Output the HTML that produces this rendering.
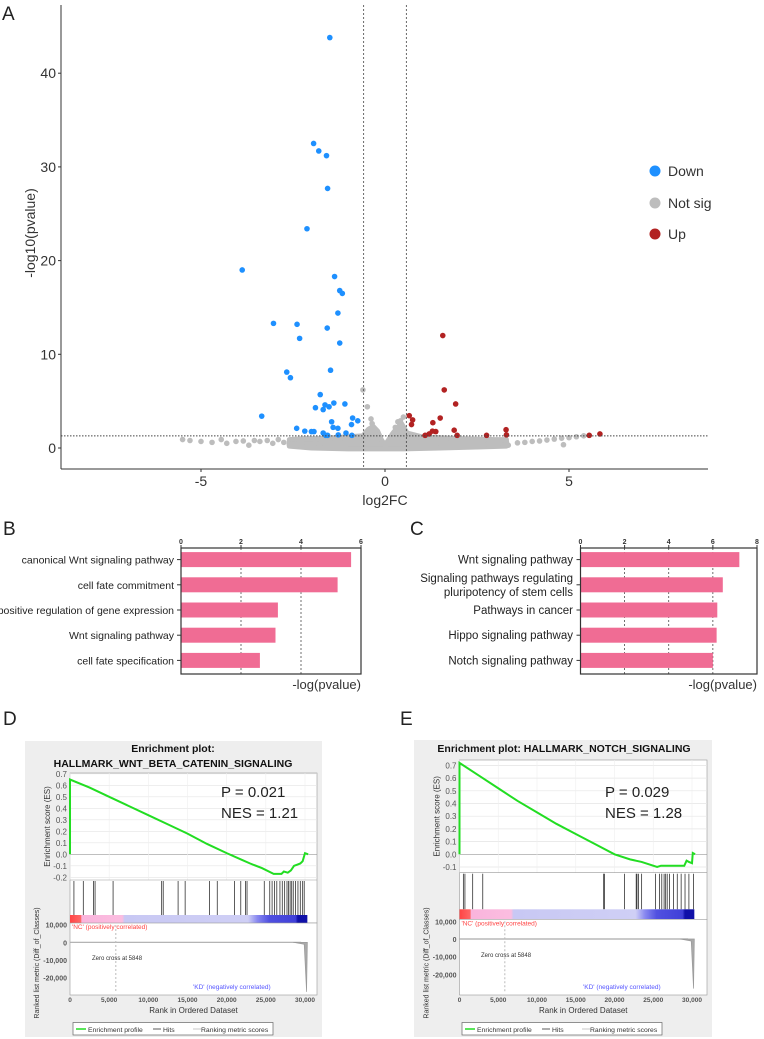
<!DOCTYPE html>
<html><head><meta charset="utf-8">
<style>
html,body{margin:0;padding:0;background:#fff;}
svg{display:block;font-family:"Liberation Sans",Arial,sans-serif;}
</style></head>
<body>
<svg id="fig" width="764" height="1039" viewBox="0 0 764 1039" xmlns="http://www.w3.org/2000/svg">
<g id="pa"></g>
<g id="pb"></g>
<g id="pc"></g>
<g id="pd"></g>
<g id="pe"></g>
</svg>
<script>
// ---------- Volcano data ----------
const downPts = [[-1.5,43.8],[-1.94,32.5],[-1.8,31.7],[-1.59,31.2],[-1.56,27.7],[-2.12,23.4],[-3.88,19.0],[-1.37,18.3],[-1.23,16.8],[-1.16,16.5],[-1.28,14.4],[-3.03,13.3],[-2.39,13.2],[-1.57,12.8],[-2.32,11.7],[-1.23,11.2],[-2.67,8.1],[-2.57,7.5],[-1.48,8.3],[-1.76,5.7],[-1.89,4.3],[-1.63,4.6],[-1.52,4.4],[-1.39,4.8],[-1.68,4.1],[-1.09,4.7],[-3.35,3.4],[-0.88,3.2],[-0.74,2.9],[-0.91,2.5],[-1.45,2.8],[-1.41,2.2],[-1.28,2.1],[-2.4,2.1],[-2.18,1.8],[-2.0,1.75],[-1.93,1.75],[-1.68,1.6],[-1.61,1.35],[-1.56,1.35],[-1.27,1.4],[-1.06,1.6],[-0.9,1.35]];
const upPts = [[1.57,12.0],[1.61,6.2],[1.92,4.7],[1.5,3.2],[0.66,3.45],[0.75,3.0],[0.72,2.5],[1.3,2.7],[1.29,1.8],[1.38,1.75],[1.88,1.9],[1.2,1.5],[1.09,1.35],[1.96,1.35],[2.76,1.35],[3.29,1.95],[3.3,1.4],[5.55,1.35],[5.84,1.5]];
const nsPts = [[-0.6,6.2],[-0.48,4.4],[-0.38,3.1],[-0.35,2.6],[0.35,2.8],[0.5,3.3],[0.28,2.2],[0.42,2.9],[-5.5,0.9],[-5.3,0.8],[-5.0,0.7],[-4.7,0.6],[-4.45,0.9],[-4.3,0.5],[-4.05,0.7],[-3.85,0.75],[-3.7,0.3],[-3.55,0.8],[-3.4,0.7],[-3.2,0.8],[-3.05,0.5],[-2.9,0.9],[-2.75,0.6],[3.35,0.3],[3.6,0.55],[3.8,0.6],[4.0,0.7],[4.2,0.75],[4.4,0.85],[4.6,0.95],[4.8,1.05],[4.85,0.35],[5.0,1.1],[5.2,1.2],[5.4,1.3],[3.3,0.6],[3.1,0.5],[2.8,0.4],[-2.6,0.4],[-2.3,0.3],[-1.9,0.5],[-1.2,0.6],[0.9,0.6],[1.8,0.5],[2.3,0.5]];
const nsBand = [[-2.6,0.9],[-2.2,1.0],[-1.8,1.0],[-1.4,1.1],[-1.0,1.2],[-0.6,1.3],[-0.45,2.0],[-0.32,2.3],[-0.2,1.8],[-0.1,0.9],[0,0.3],[0.1,0.9],[0.2,1.5],[0.3,2.0],[0.45,2.6],[0.6,1.6],[1.0,1.2],[1.5,1.1],[2.0,1.0],[2.5,0.95],[3.0,0.9],[3.3,0.9],[3.3,0.2],[2.5,0.1],[1.5,0.0],[0.5,-0.1],[0,-0.1],[-1,-0.1],[-2,0.0],[-2.6,0.2]];
const volXTicks = [-5,0,5];
const volYTicks = [0,10,20,30,40];
const fcCut = 0.58, pCut = 1.3;

// ---------- Bar data ----------
const goCats = ["canonical Wnt signaling pathway","cell fate commitment ","positive regulation of gene expression","Wnt signaling pathway ","cell fate specification "];
const goVals = [5.67,5.22,3.23,3.15,2.63];
const goTicks = [0,2,4,6];
const keggCats = [["Wnt signaling pathway"],["Signaling pathways regulating","pluripotency of stem cells"],["Pathways in cancer"],["Hippo signaling pathway"],["Notch signaling pathway"]];
const keggVals = [7.2,6.45,6.2,6.17,6.0];
const keggTicks = [0,2,4,6,8];

// ---------- GSEA data ----------
const wntRank = [0,0,2.5,5,7.5,10,12.5,15,17.5,20,22,23,24.5,26,26.5,27,27.3,27.8,28.2,28.6,29,29.4,29.7,30,30.4];
const wntES = [0,0.65,0.58,0.5,0.42,0.34,0.26,0.18,0.09,0.01,-0.05,-0.08,-0.12,-0.17,-0.17,-0.17,-0.15,-0.16,-0.14,-0.1,-0.09,-0.08,-0.06,0.01,0];
const wntHits = [0.5,1.7,3.0,3.2,5.5,11.7,11.9,13.8,14.7,17.8,18.8,21.0,21.8,22.4,22.6,24.8,25.5,25.8,26.1,26.4,26.8,27.1,27.4,27.7,27.9,28.1,28.3,28.5,28.8,29.1,29.4,29.7,29.9];
const notchRank = [0,0,2.5,5,7.5,10,12.5,15,17.5,20,22,23.5,25.5,26,27,28,29,29.3,29.6,30,30.1,30.4];
const notchES = [0,0.72,0.62,0.52,0.42,0.33,0.24,0.16,0.08,0.0,-0.04,-0.06,-0.1,-0.09,-0.09,-0.09,-0.09,-0.05,-0.06,-0.07,0.01,0];
const notchHits = [0.5,0.7,1.7,3.0,18.6,18.7,21.3,22.8,22.9,23.1,23.5,25.3,25.8,26.1,26.4,26.6,26.8,27.1,27.6,28.1,28.6,29.1,29.6,30.2];
const rankTicks = [0,5,10,15,20,25,30];
const rankTickLabels = ["0","5,000","10,000","15,000","20,000","25,000","30,000"];
const metricTicks = [10000,0,-10000,-20000];
const metricTickLabels = ["10,000","0","-10,000","-20,000"];

const NS="http://www.w3.org/2000/svg";
function mk(parent, tag, attrs, text){
  const e=document.createElementNS(NS,tag);
  for(const k in attrs) e.setAttribute(k,attrs[k]);
  if(text!==undefined) e.textContent=text;
  parent.appendChild(e); return e;
}
function named(e,n,i){ 
   return e; }

// ---------- Panel labels ----------
const fig=document.getElementById('fig');
[["A",2,20],["B",3,535],["C",410,535],["D",3,725],["E",400,725]].forEach(p=>{
  const t=mk(fig,'text',{x:p[1],y:p[2],'font-size':19,fill:'#222'},p[0]);
  
  
});

// ---------- Volcano ----------
(function(){
  const g=document.getElementById('pa');
  const L=61,R=708,T=5,B=469;
  const X=v=>385+v*36.8, Y=v=>448-v*9.37;
  // not sig band
  const bp=nsBand.map(p=>X(p[0])+','+Y(p[1])).join(' ');
  const band=mk(g,'polygon',{points:bp,fill:'#bdbdbd',stroke:'#bdbdbd','stroke-width':5,'stroke-linejoin':'round'});
  
  
  nsPts.forEach(p=>{const c=mk(g,'circle',{cx:X(p[0]),cy:Y(p[1]),r:2.8,fill:'#bdbdbd'});
    
    });
  downPts.forEach(p=>{const c=mk(g,'circle',{cx:X(p[0]),cy:Y(p[1]),r:2.8,fill:'#1e90ff'});
    
    });
  upPts.forEach(p=>{const c=mk(g,'circle',{cx:X(p[0]),cy:Y(p[1]),r:2.8,fill:'#b22222'});
    
    });
  // cutoffs
  [-fcCut,fcCut].forEach(v=>{const l=mk(g,'line',{x1:X(v),x2:X(v),y1:T,y2:B,stroke:'#444','stroke-width':0.8,'stroke-dasharray':'2,2'});
    
    });
  const hl=mk(g,'line',{x1:L,x2:R,y1:Y(pCut),y2:Y(pCut),stroke:'#444','stroke-width':1,'stroke-dasharray':'1.5,1.5'});
  
  
  named(mk(g,'line',{x1:L,x2:L,y1:T,y2:B,stroke:'#333','stroke-width':1}),'y-axis');
  named(mk(g,'line',{x1:L,x2:R,y1:B,y2:B,stroke:'#333','stroke-width':1}),'x-axis');
  volYTicks.forEach(v=>{
    mk(g,'line',{x1:L-3,x2:L,y1:Y(v),y2:Y(v),stroke:'#333'});
    const t=mk(g,'text',{x:L-5,y:Y(v)+5,'font-size':14,'text-anchor':'end',fill:'#333'},v);
    
    
  });
  volXTicks.forEach(v=>{
    mk(g,'line',{x1:X(v),x2:X(v),y1:B,y2:B+3,stroke:'#333'});
    const t=mk(g,'text',{x:X(v),y:B+17,'font-size':14,'text-anchor':'middle',fill:'#333'},v);
    
    
  });
  named(mk(g,'text',{x:385,y:505,'font-size':14,'text-anchor':'middle',fill:'#333'},'log2FC'),'x-axis-title');
  named(mk(g,'text',{x:0,y:0,'font-size':14,'text-anchor':'middle',fill:'#333',transform:'translate(35,233) rotate(-90)'},'-log10(pvalue)'),'y-axis-title');
  [["Down",'#1e90ff',171],["Not sig",'#bdbdbd',203],["Up",'#b22222',234]].forEach(d=>{
    const lg=mk(g,'g',{});
    
    
    mk(lg,'circle',{cx:655,cy:d[2],r:5.5,fill:d[1]});
    mk(lg,'text',{x:668,y:d[2]+5,'font-size':14,fill:'#333'},d[0]);
  });
})();

// ---------- Bars ----------
function barPanel(id,cats,vals,ticks,L,R,T,B,labelX,fs){
  const g=document.getElementById(id);
  const max=ticks[ticks.length-1];
  const X=v=>L+(R-L)*v/max;
  const step=(B-T)/cats.length;
  ticks.slice(1,-1).forEach(v=>{const l=mk(g,'line',{x1:X(v),x2:X(v),y1:T,y2:B,stroke:'#333','stroke-width':0.7,'stroke-dasharray':'2,2'});
    
    });
  vals.forEach((v,i)=>{
    const cy=T+step*(i+0.5)-1;
    const r=mk(g,'rect',{x:L,y:cy-7.5,width:X(v)-L,height:15,fill:'#f06c94'});
    
    
    mk(g,'line',{x1:L-4,x2:L,y1:cy,y2:cy,stroke:'#333'});
    const lines=Array.isArray(cats[i])?cats[i]:[cats[i]];
    lines.forEach((s,j)=>{
      const t=mk(g,'text',{x:labelX,y:cy+4+(j-(lines.length-1)/2)*14,'font-size':fs,'text-anchor':'end',fill:'#222'},s);
      
      
    });
  });
  named(mk(g,'rect',{x:L,y:T,width:R-L,height:B-T,fill:'none',stroke:'#333','stroke-width':1.2}),'plot-frame');
  ticks.forEach(v=>{
    mk(g,'line',{x1:X(v),x2:X(v),y1:T-3,y2:T,stroke:'#333'});
    const t=mk(g,'text',{x:X(v),y:T-4,'font-size':7,'font-weight':'bold','text-anchor':'middle',fill:'#333'},v);
    
    
  });
  named(mk(g,'text',{x:R,y:B+15,'font-size':13,'text-anchor':'end',fill:'#333'},'-log(pvalue)'),'x-axis-title');
}
barPanel('pb',goCats,goVals,goTicks,181,361,548,674,174,10.5);
barPanel('pc',keggCats,keggVals,keggTicks,580.5,757,548,674,573,11.5);

// ---------- GSEA ----------
function gsea(id,c,rank,es,hits){
  const g=document.getElementById(id);
  named(mk(g,'rect',{x:c.bx1,y:c.by1,width:c.bx2-c.bx1,height:1037-c.by1,fill:'#eeeeee'}),'panel-background');
  const X=v=>c.x0+(c.x30-c.x0)*v/30;
  const E=v=>c.e0-v*c.eu;
  const mY=v=>c.m0-v/10000*17.7;
  named(mk(g,'rect',{x:c.x0,y:c.esTop,width:c.xR-c.x0,height:c.hitBot2-c.esTop,fill:'#fff',stroke:'#999','stroke-width':0.6}),'plot-area');
  // es grid
  c.esTicks.forEach(v=>{
    mk(g,'line',{x1:c.x0,x2:c.xR,y1:E(v),y2:E(v),stroke:v===0?'#999':'#e4e4e4','stroke-width':0.7});
    const t=mk(g,'text',{x:c.x0-3,y:E(v)+3,'font-size':8,'text-anchor':'end',fill:'#555'},v.toFixed(1));
    
    
  });
  rankTicks.forEach(v=>mk(g,'line',{x1:X(v),x2:X(v),y1:c.esTop,y2:c.esBot,stroke:'#eee','stroke-width':0.6}));
  mk(g,'line',{x1:c.x0,x2:c.xR,y1:c.esBot,y2:c.esBot,stroke:'#999','stroke-width':0.6});
  const pts=rank.map((r,i)=>X(r)+','+E(es[i])).join(' ');
  named(mk(g,'polyline',{points:pts,fill:'none',stroke:'#22dd22','stroke-width':2}),'enrichment-profile-line');
  hits.forEach(h=>{const l=mk(g,'line',{x1:X(h),x2:X(h),y1:c.esBot+1,y2:c.hitBot,stroke:'#333','stroke-width':0.8});
    
    });
  // color bar
  const gid=id+'grad';
  const defs=mk(g,'defs',{});
  const lg=mk(defs,'linearGradient',{id:gid,x1:0,x2:1,y1:0,y2:0});
  [[0,'#f44'],[0.045,'#f66'],[0.05,'#fab4dc'],[0.22,'#fbbde0'],[0.23,'#c8c8f4'],[0.75,'#cfcff5'],[0.79,'#8888f0'],[0.84,'#5050e0'],[0.95,'#4040d8'],[0.96,'#1010a8'],[1,'#1010a8']].forEach(s=>mk(lg,'stop',{offset:s[0],'stop-color':s[1]}));
  named(mk(g,'rect',{x:c.x0,y:c.hitBot,width:X(30.3)-c.x0,height:c.hitBot2-c.hitBot,fill:'url(#'+gid+')'}),'ranking-color-bar');
  // metric area
  named(mk(g,'rect',{x:c.x0,y:c.hitBot2,width:c.xR-c.x0,height:995-c.hitBot2,fill:'#fff',stroke:'#999','stroke-width':0.6}),'metric-area');
  metricTicks.forEach((v,i)=>{
    const t=mk(g,'text',{x:c.x0-3,y:mY(v)+3,'font-size':7,'text-anchor':'end',fill:'#555','font-weight':'bold'},metricTickLabels[i]);
    
    
  });
  named(mk(g,'line',{x1:c.x0,x2:X(29.5),y1:mY(0),y2:mY(0),stroke:'#aaa','stroke-width':1.2}),'ranking-metric-scores');
  mk(g,'path',{d:`M${X(28.5)} ${mY(0)} L${X(29.9)} ${mY(0)+2} L${X(30.2)} ${mY(-28000)} L${X(30.3)} ${mY(0)}Z`,fill:'#aaa',stroke:'#999','stroke-width':0.7});
  named(mk(g,'line',{x1:X(5.848),x2:X(5.848),y1:c.hitBot2+2,y2:993,stroke:'#bbb','stroke-dasharray':'2,2'}),'zero-cross-line');
  named(mk(g,'text',{x:c.zx,y:c.zy,'font-size':6,fill:'#333'},'Zero cross at 5848'),'zero-cross-label');
  named(mk(g,'text',{x:c.x0+2,y:c.hitBot2+6,'font-size':6.5,fill:'#f44'},"'NC' (positively correlated)"),'positive-label');
  named(mk(g,'text',{x:c.kx,y:989,'font-size':6.5,fill:'#55f'},"'KD' (negatively correlated)"),'negative-label');
  rankTicks.forEach((v,i)=>{
    const t=mk(g,'text',{x:X(v),y:1002,'font-size':6.5,'text-anchor':'middle',fill:'#555','font-weight':'bold'},rankTickLabels[i]);
    
    
  });
  named(mk(g,'text',{x:(c.x0+c.xR)/2,y:1013,'font-size':8,'text-anchor':'middle',fill:'#333'},'Rank in Ordered Dataset'),'x-axis-title');
  named(mk(g,'text',{x:0,y:0,'font-size':8,'text-anchor':'middle',fill:'#333',transform:`translate(${c.x0-20},${(c.esTop+c.esBot)/2}) rotate(-90)`},'Enrichment score (ES)'),'es-axis-title');
  named(mk(g,'text',{x:0,y:0,'font-size':7,'text-anchor':'middle',fill:'#333',transform:`translate(${c.x0-31},963) rotate(-90)`},'Ranked list metric (Diff_of_Classes)'),'metric-axis-title');
  c.title.forEach((s,i)=>named(mk(g,'text',{x:c.tx,y:752+i*15,'font-size':10.5,'font-weight':'bold','text-anchor':'middle',fill:'#111'},s),'plot-title'));
  named(mk(g,'text',{x:c.px,y:797,'font-size':15,fill:'#222'},c.p),'p-value-label');
  named(mk(g,'text',{x:c.px,y:818,'font-size':15,fill:'#222'},c.nes),'nes-label');
  // legend
  const lgG=mk(g,'g',{});
  
  
  mk(lgG,'rect',{x:c.lx1,y:1022.5,width:c.lx2-c.lx1,height:12.5,fill:'#fff',stroke:'#666','stroke-width':0.7});
  const w=c.lx2-c.lx1;
  mk(lgG,'line',{x1:c.lx1+3,x2:c.lx1+13,y1:1029,y2:1029,stroke:'#22dd22','stroke-width':1.5});
  mk(lgG,'text',{x:c.lx1+15,y:1032,'font-size':6.8,fill:'#333'},'Enrichment profile');
  mk(lgG,'line',{x1:c.lx1+w*0.4,x2:c.lx1+w*0.44,y1:1029,y2:1029,stroke:'#333','stroke-width':0.8});
  mk(lgG,'text',{x:c.lx1+w*0.45,y:1032,'font-size':6.8,fill:'#333'},'Hits');
  mk(lgG,'line',{x1:c.lx1+w*0.6,x2:c.lx1+w*0.64,y1:1029,y2:1029,stroke:'#bbb','stroke-width':0.8});
  mk(lgG,'text',{x:c.lx1+w*0.64,y:1032,'font-size':6.8,fill:'#333'},'Ranking metric scores');
}
gsea('pd',{bx1:25,bx2:322,by1:741,x0:70,x30:305,xR:317,esTop:773,esBot:880,e0:854.3,eu:115,esTicks:[0.7,0.6,0.5,0.4,0.3,0.2,0.1,0,-0.1,-0.2],
  hitBot:915,hitBot2:923,m0:942.3,zx:92,zy:960,kx:193,title:['Enrichment plot:','HALLMARK_WNT_BETA_CATENIN_SIGNALING'],tx:173,px:221,p:'P = 0.021',nes:'NES = 1.21',lx1:73,lx2:273},wntRank,wntES,wntHits);
gsea('pe',{bx1:414,bx2:712,by1:740,x0:459.5,x30:692,xR:707,esTop:760,esBot:872.7,e0:854.3,eu:127,esTicks:[0.7,0.6,0.5,0.4,0.3,0.2,0.1,0,-0.1],
  hitBot:909.3,hitBot2:919.3,m0:939,zx:481,zy:957,kx:583,title:['Enrichment plot: HALLMARK_NOTCH_SIGNALING'],tx:564,px:605,p:'P = 0.029',nes:'NES = 1.28',lx1:462,lx2:662},notchRank,notchES,notchHits);
</script>
</body></html>
